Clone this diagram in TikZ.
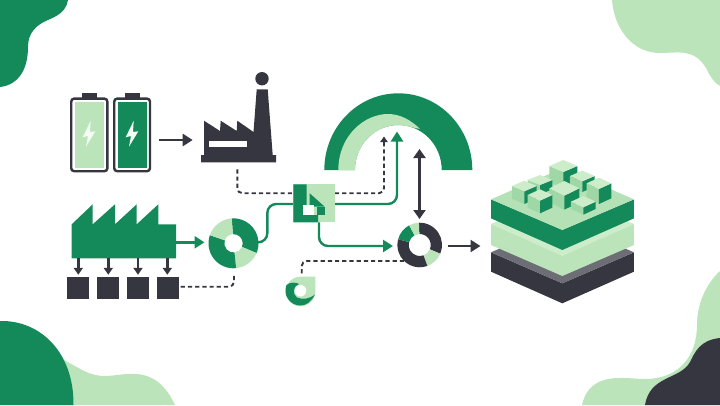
\documentclass[tikz,border=0pt]{standalone}
\usetikzlibrary{arrows.meta}
\definecolor{leaf}{HTML}{148A5B}
\definecolor{mint}{HTML}{BBE4BA}
\definecolor{pale}{HTML}{CDECCA}
\definecolor{sage}{HTML}{9FD8A6}
\definecolor{deck}{HTML}{B4E1B5}
\definecolor{coal}{HTML}{35363F}
\definecolor{ash}{HTML}{6D6E75}
\tikzset{
  coalline/.style={draw=coal,line width=2.4pt},
  leafline/.style={draw=leaf,line width=2.4pt,rounded corners=9pt},
  dashline/.style={draw=coal,line width=1.9pt,dash pattern=on 4.2pt off 3pt,rounded corners=5pt},
  bighead/.style={-{Triangle[length=10pt,width=12pt]}},
  midhead/.style={-{Triangle[length=7pt,width=9pt]}},
  batterybody/.style={draw=coal,line width=2.4pt,rounded corners=3pt,fill=white},
  crate/.style={fill=coal},
}
% Ring segment: colour, centre x and y, outer and inner radius, start and end angle
\newcommand{\ringpart}[7]{%
  \fill[#1] ({#2+#4*cos(#6)},{#3-#4*sin(#6)}) arc[start angle=-#6,end angle=-#7,radius=#4]
    -- ({#2+#5*cos(#7)},{#3-#5*sin(#7)})
    arc[start angle=-#7,end angle=-#6,radius=#5] -- cycle;}
% Isometric block: top centre x,y; half width; half height; depth; right side colour
\newcommand{\block}[6]{%
  \fill[sage] ({#1-#3},#2) -- (#1,{#2+#4}) -- (#1,{#2+#4+#5}) -- ({#1-#3},{#2+#5}) -- cycle;
  \fill[#6] ({#1+#3},#2) -- (#1,{#2+#4}) -- (#1,{#2+#4+#5}) -- ({#1+#3},{#2+#5}) -- cycle;
  \fill[pale] ({#1-#3},#2) -- (#1,{#2-#4}) -- ({#1+#3},#2) -- (#1,{#2+#4}) -- cycle;}
\begin{document}
\begin{tikzpicture}[x=1pt,y=-1pt]
\useasboundingbox (0,0) rectangle (720,405);

% Corner blobs
\fill[leaf] (0,0) -- (68,0) .. controls (66,12) and (57,16) .. (48,20)
  .. controls (36,25) and (28,33) .. (28,47) .. controls (28,70) and (18,85) .. (0,87) -- cycle;
\fill[mint] (612,0) .. controls (614,28) and (632,53) .. (660,53)
  .. controls (678,53) and (694,48) .. (706,68) .. controls (710,76) and (714,83) .. (720,86) -- (720,0) -- cycle;
\fill[mint] (60,358) .. controls (80,368) and (88,376) .. (105,376)
  .. controls (125,376) and (155,362) .. (175,405) -- (60,405) -- cycle;
\fill[leaf] (0,405) -- (0,321) .. controls (40,320) and (74,352) .. (73.5,405) -- cycle;
\fill[mint] (720,271) .. controls (705,285) and (697,305) .. (697,325)
  .. controls (697,355) and (680,379) .. (645,379)
  .. controls (625,379) and (590,370) .. (582,405) -- (720,405) -- cycle;
\fill[coal] (720,338) .. controls (700,340) and (695,352) .. (690,362)
  .. controls (680,380) and (650,375) .. (645,405) -- (720,405) -- cycle;

% Batteries
\fill[coal] (81.7,92.7) rectangle (96.7,99);
\fill[coal] (124.6,92.7) rectangle (139.6,99);
\draw[batterybody] (71.2,98.6) rectangle (107.4,171.2);
\draw[batterybody] (114.2,98.6) rectangle (150,171.2);
\fill[mint] (74.5,102) rectangle (104,167.8);
\fill[leaf] (117.6,102) rectangle (146.8,167.8);
\fill[white!85!mint] (90.7,120.7) -- (82.7,137.3) -- (88,136) -- (86,146.7) -- (95.3,131.3) -- (90,132) -- cycle;
\fill[white!85!mint] (133.7,120.7) -- (125.7,137.3) -- (131,136) -- (129,146.7) -- (138.3,131.3) -- (133,132) -- cycle;

% Dark factory
\fill[coal] (204,155) -- (204,120.7) -- (220,131) -- (220.7,120.7) -- (236.7,131) -- (237.3,120.7)
  -- (253.5,132) -- (256.7,89.3) -- (267.7,89.3) -- (272.7,155) -- (276,155) -- (276,162.3) -- (201,162.3) -- (201,155) -- cycle;
\fill[white] (209.3,140.7) rectangle (247.3,146.7);
\fill[coal] (262,78.7) circle[radius=6.7];

% Green factory
\fill[leaf] (71.7,258.3) -- (71.7,224.3) -- (92.7,204.3) -- (92.7,224.3) -- (115,204.3) -- (115,224.3)
  -- (136.7,204.3) -- (136.7,224.3) -- (158.3,204.3) -- (158.3,224.3) -- (176,224.3) -- (176,258.3) -- cycle;
\fill[crate] (67.3,277.3) rectangle (89.3,299.3);
\fill[crate] (97,277.3) rectangle (119.3,299.3);
\fill[crate] (127,277.3) rectangle (149.3,299.3);
\fill[crate] (156.7,277.3) rectangle (179,299.3);

% Named anchor points for the connectors
\coordinate (battEnd) at (158.7,140);
\coordinate (dkFactIn) at (192.7,140);
\coordinate (dkFactOut) at (237.3,169.3);
\coordinate (hubW) at (293.3,193.2);
\coordinate (hubE) at (335,193.2);
\coordinate (hubWlow) at (293.3,204);
\coordinate (hubElow) at (335,204);
\coordinate (hubS) at (319,222.3);
\coordinate (archDash) at (384,136.5);
\coordinate (archLine) at (397,131.5);
\coordinate (gfE) at (176,242.3);
\coordinate (ringAin) at (204.5,242.3);
\coordinate (ringAeast) at (258,242.3);
\coordinate (ringAsouth) at (234,273);
\coordinate (crateE) at (180.7,286.7);
\coordinate (ringBin) at (393,246);
\coordinate (ringBtop) at (419.5,219);
\coordinate (archUnder) at (419.5,149);
\coordinate (ringBeast) at (447.7,246);
\coordinate (stackIn) at (480.5,246);
\coordinate (ringBsw) at (404,261);
\coordinate (swirlTop) at (301.7,275.5);

% Arch
\fill[leaf] (324.3,170) arc[start angle=-180,end angle=0,x radius=74,y radius=76.7]
  -- (441.7,170) arc[start angle=0,end angle=-180,x radius=43.4,y radius=45] -- cycle;
\fill[mint] (338.3,170) .. controls (338.5,135) and (365,114) .. (388,114)
  .. controls (400,114) and (411,120) .. (420,129)
  .. controls (412,127.5) and (405,125) .. (398.3,125)
  .. controls (375,125) and (355,145) .. (355,170) -- cycle;

% Dashed links
\draw[dashline] (dkFactOut) |- (hubW);
\draw[dashline] (hubE) -| (384,142);
\draw[dashline] (crateE) -| (ringAsouth);
\draw[dashline] (ringBsw) -| (swirlTop);
\fill[coal] (archDash) -- (380.2,142) -- (387.8,142) -- cycle;

% Green links
\draw[leafline] (ringAeast) -| (267.3,204) -- (hubWlow);
\draw[leafline,bighead] (hubElow) -| (archLine);
\draw[leafline,bighead] (hubS) |- (ringBin);
\draw[leafline,rounded corners=0pt,bighead] (gfE) -- (ringAin);

% Dark arrows
\draw[coalline,bighead] (battEnd) -- (dkFactIn);
\draw[coalline,{Triangle[length=9pt,width=12pt]}-{Triangle[length=9pt,width=12pt]}] (archUnder) -- (ringBtop);
\draw[coalline,bighead] (ringBeast) -- (stackIn);
\foreach \px in {78.3,108.3,138,167.3}{
  \coordinate (dropTop) at (\px,258.3);
  \coordinate (dropEnd) at (\px,274.8);
  \draw[coalline,midhead] (dropTop) -- (dropEnd);
}

% Hub square
\fill[mint] (293.3,184.3) rectangle (335,222.3);
\fill[leaf] (293.3,184.3) -- (306.5,184.3) -- (306.5,215) -- (318,215) -- (318,222.3) -- (293.3,222.3) -- cycle;
\fill[leaf] (309.7,193.3) -- (324.7,206.7) -- (309.7,206.7) -- cycle;
\fill[white] (303,205) rectangle (314,215);
\fill[leaf] (317.3,206.7) rectangle (324.7,215);

% Ring on the left
\ringpart{leaf}{233.5}{243.3}{25}{9.2}{94}{-23}
\ringpart{mint}{233.5}{243.3}{25}{9.2}{-23}{-84}
\ringpart{leaf}{233.5}{243.3}{25}{9.2}{-84}{-199}
\ringpart{mint}{233.5}{243.3}{25}{9.2}{161}{94}

% Ring on the right
\ringpart{coal}{419.7}{245}{22.3}{11}{92}{-23}
\ringpart{mint}{419.7}{245}{22.3}{11}{-23}{-70}
\ringpart{coal}{419.7}{245}{22.3}{11}{-70}{-195}
\ringpart{leaf}{419.7}{245}{22.3}{11}{165}{118}
\ringpart{mint}{419.7}{245}{22.3}{11}{118}{92}

% Swirl drop
\fill[mint] (315.5,276.7) -- (300.5,276.7) arc[start angle=-90,end angle=-270,radius=14.8] arc[start angle=90,end angle=0,radius=14.8] -- cycle;
\fill[leaf] (286.5,285) .. controls (290,282) and (296,282) .. (299,284)
  .. controls (293,286) and (292,294) .. (297,297.5)
  .. controls (303,300) and (309,299) .. (315,294.5)
  .. controls (311,302) and (306,305.5) .. (300.5,305.5)
  .. controls (290,305.5) and (282.5,295) .. (286.5,285) -- cycle;
\fill[white] (300.5,290.7) circle[radius=5.8];

% Layered stack with blocks on top
\begin{scope}[shift={(485,150)},x=0.3333pt,y=-0.3333pt]
  \fill[coal] (18,307) -- (232,400) -- (447,307) -- (447,365) -- (232,460) -- (18,365) -- cycle;
  \fill[ash] (18,307) -- (232,214) -- (447,307) -- (232,400) -- cycle;
  \fill[mint] (18,222) -- (232,315) -- (447,222) -- (447,285) -- (232,378) -- (18,285) -- cycle;
  \fill[pale] (18,222) -- (232,129) -- (447,222) -- (232,318) -- cycle;
  \fill[leaf] (18,148) -- (232,240) -- (447,148) -- (447,205) -- (232,300) -- (18,205) -- cycle;
  \fill[deck] (18,148) -- (232,55) -- (447,148) -- (232,240) -- cycle;
  \block{235}{48}{42}{18}{48}{leaf}
  \block{165}{90}{37}{15}{28}{leaf}
  \block{292}{78}{37}{16}{32}{leaf}
  \block{118}{108}{37}{16}{38}{leaf}
  \block{342}{100}{37}{17}{45}{leaf}
  \block{238}{115}{45}{22}{42}{leaf}
  \block{165}{135}{37}{17}{38}{leaf}
  \block{295}{155}{37}{17}{22}{leaf}
\end{scope}
\end{tikzpicture}
\end{document}
